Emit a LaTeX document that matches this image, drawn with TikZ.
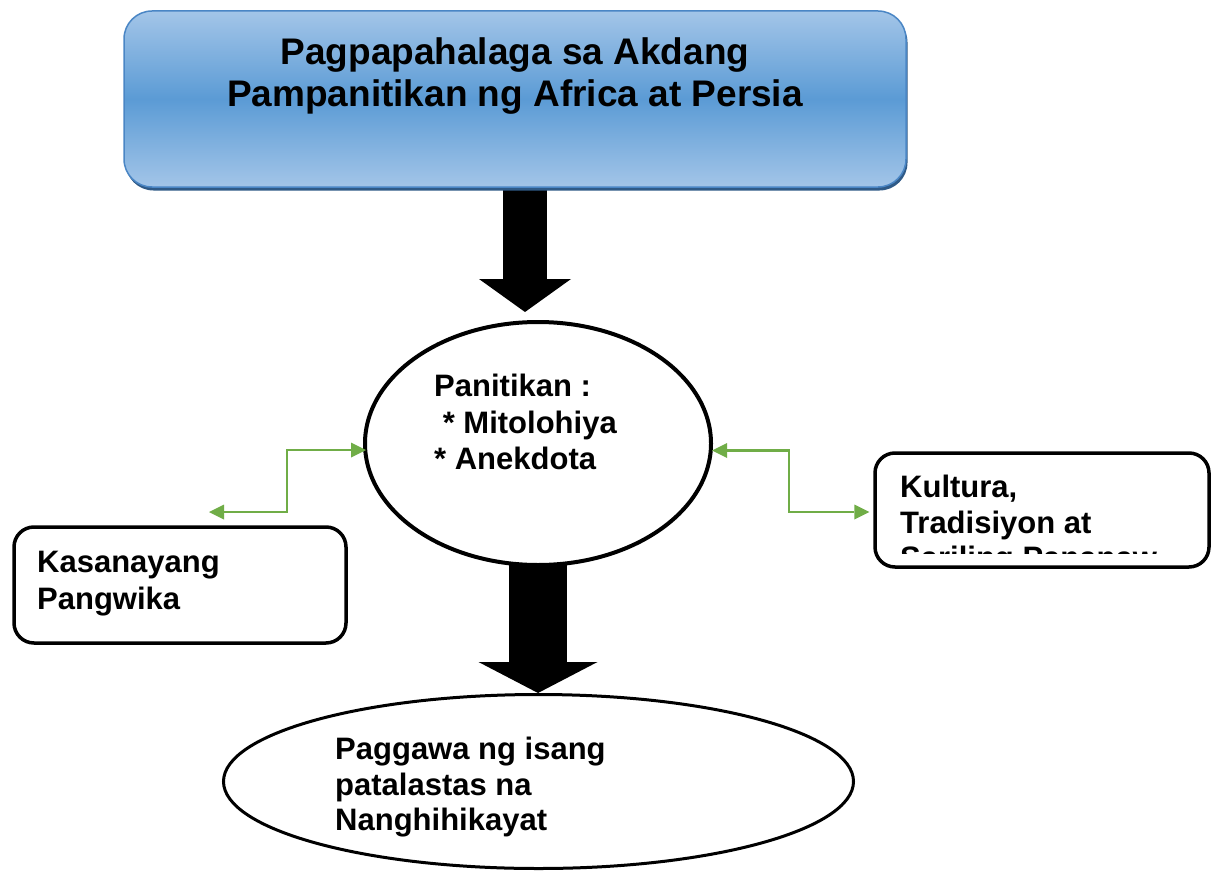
\documentclass[tikz,border=0pt]{standalone}
\usepackage{fontspec}
\setmainfont{Liberation Sans}
\usetikzlibrary{shapes.geometric,arrows.meta,shadows,calc}
\definecolor{boxtop}{HTML}{A3C5E8}
\definecolor{boxmid}{HTML}{5B9BD5}
\definecolor{boxline}{HTML}{4A86C5}
\definecolor{boxshadow}{HTML}{2F5A87}
\definecolor{conngreen}{HTML}{70AD47}
\begin{document}
\begin{tikzpicture}[x=1pt,y=-1pt,
  titletext/.style={font=\fontsize{37}{42}\selectfont\bfseries, inner sep=0pt, align=center, anchor=north},
  bodytext/.style={font=\fontsize{31}{#1}\selectfont\bfseries, inner sep=0pt, align=left, anchor=north west},
  roundbox/.style={draw=black, line width=3.5pt, fill=white, rounded corners=20pt, inner sep=0pt},
  ovalshape/.style={ellipse, draw=black, fill=white, inner sep=0pt},
  blockarrow/.style n args={3}{line width=#1, -{Triangle[width=#2,length=#3,line width=0pt]}},
  conn/.style={draw=conngreen, line width=2.5pt, {Triangle[width=15pt,length=15pt,line width=0pt]}-{Triangle[width=15pt,length=15pt,line width=0pt]}}
]
\useasboundingbox (0,0) rectangle (1212,872);
\fill[white] (0,0) rectangle (1212,872);

% coordinates for block arrows
\coordinate (a1s) at (525,185);
\coordinate (a1e) at (525,312);
\coordinate (a2s) at (538,555);
\coordinate (a2e) at (538,693);

% block arrows (drawn first, shapes cover their starts)
\draw[blockarrow={44pt}{92pt}{33pt}] (a1s) -- (a1e);
\draw[blockarrow={58pt}{119pt}{31pt}] (a2s) -- (a2e);

% top title box
\node[draw=boxline, line width=1.5pt, rounded corners=28pt,
      top color=boxtop, bottom color=boxtop, middle color=boxmid,
      minimum width=782pt, minimum height=176pt, inner sep=0pt,
      general shadow={shadow xshift=1.5pt, shadow yshift=-3.5pt, fill=boxshadow}]
      (top) at (515,99) {};
\node[titletext] (ttl) at (515,37) {Pagpapahalaga sa Akdang\\Pampanitikan ng Africa at Persia};

% central ellipse
\node[ovalshape, line width=4pt, minimum width=346pt, minimum height=243pt] (e1) at (538,443.5) {};
\node[bodytext=36.5] (t1) at (434,374) {Panitikan :\\\hspace*{8.6pt}* Mitolohiya\\* Anekdota};

% bottom ellipse
\node[ovalshape, line width=3pt, minimum width=630pt, minimum height=174pt] (e2) at (538.5,781.5) {};
\node[bodytext=35.5] (t2) at (335,737) {Paggawa ng isang\\patalastas na\\Nanghihikayat};

% left box
\node[roundbox, minimum width=332pt, minimum height=116pt] (lbox) at (180,585) {};
\node[bodytext=37] (t3) at (37,551) {Kasanayang\\Pangwika};

% right box
\node[roundbox, minimum width=334pt, minimum height=114pt] (rbox) at (1042,510) {};
\begin{scope}
  \clip (880,455) rectangle (1205,553);
  \node[bodytext=35.5] (t4) at (900,475) {Kultura,\\Tradisiyon at\\Sariling Pananaw};
\end{scope}

% green connectors
\coordinate (lfree) at (209,512);
\draw[conn] (lfree) -- ++(78,0) |- ($(e1.west)+(3,6.5)$);
\draw[conn] ($(e1.east)+(-1,7)$) -- ++(77,0) |- ($(rbox.west)+(-4,2)$);
\end{tikzpicture}
\end{document}
